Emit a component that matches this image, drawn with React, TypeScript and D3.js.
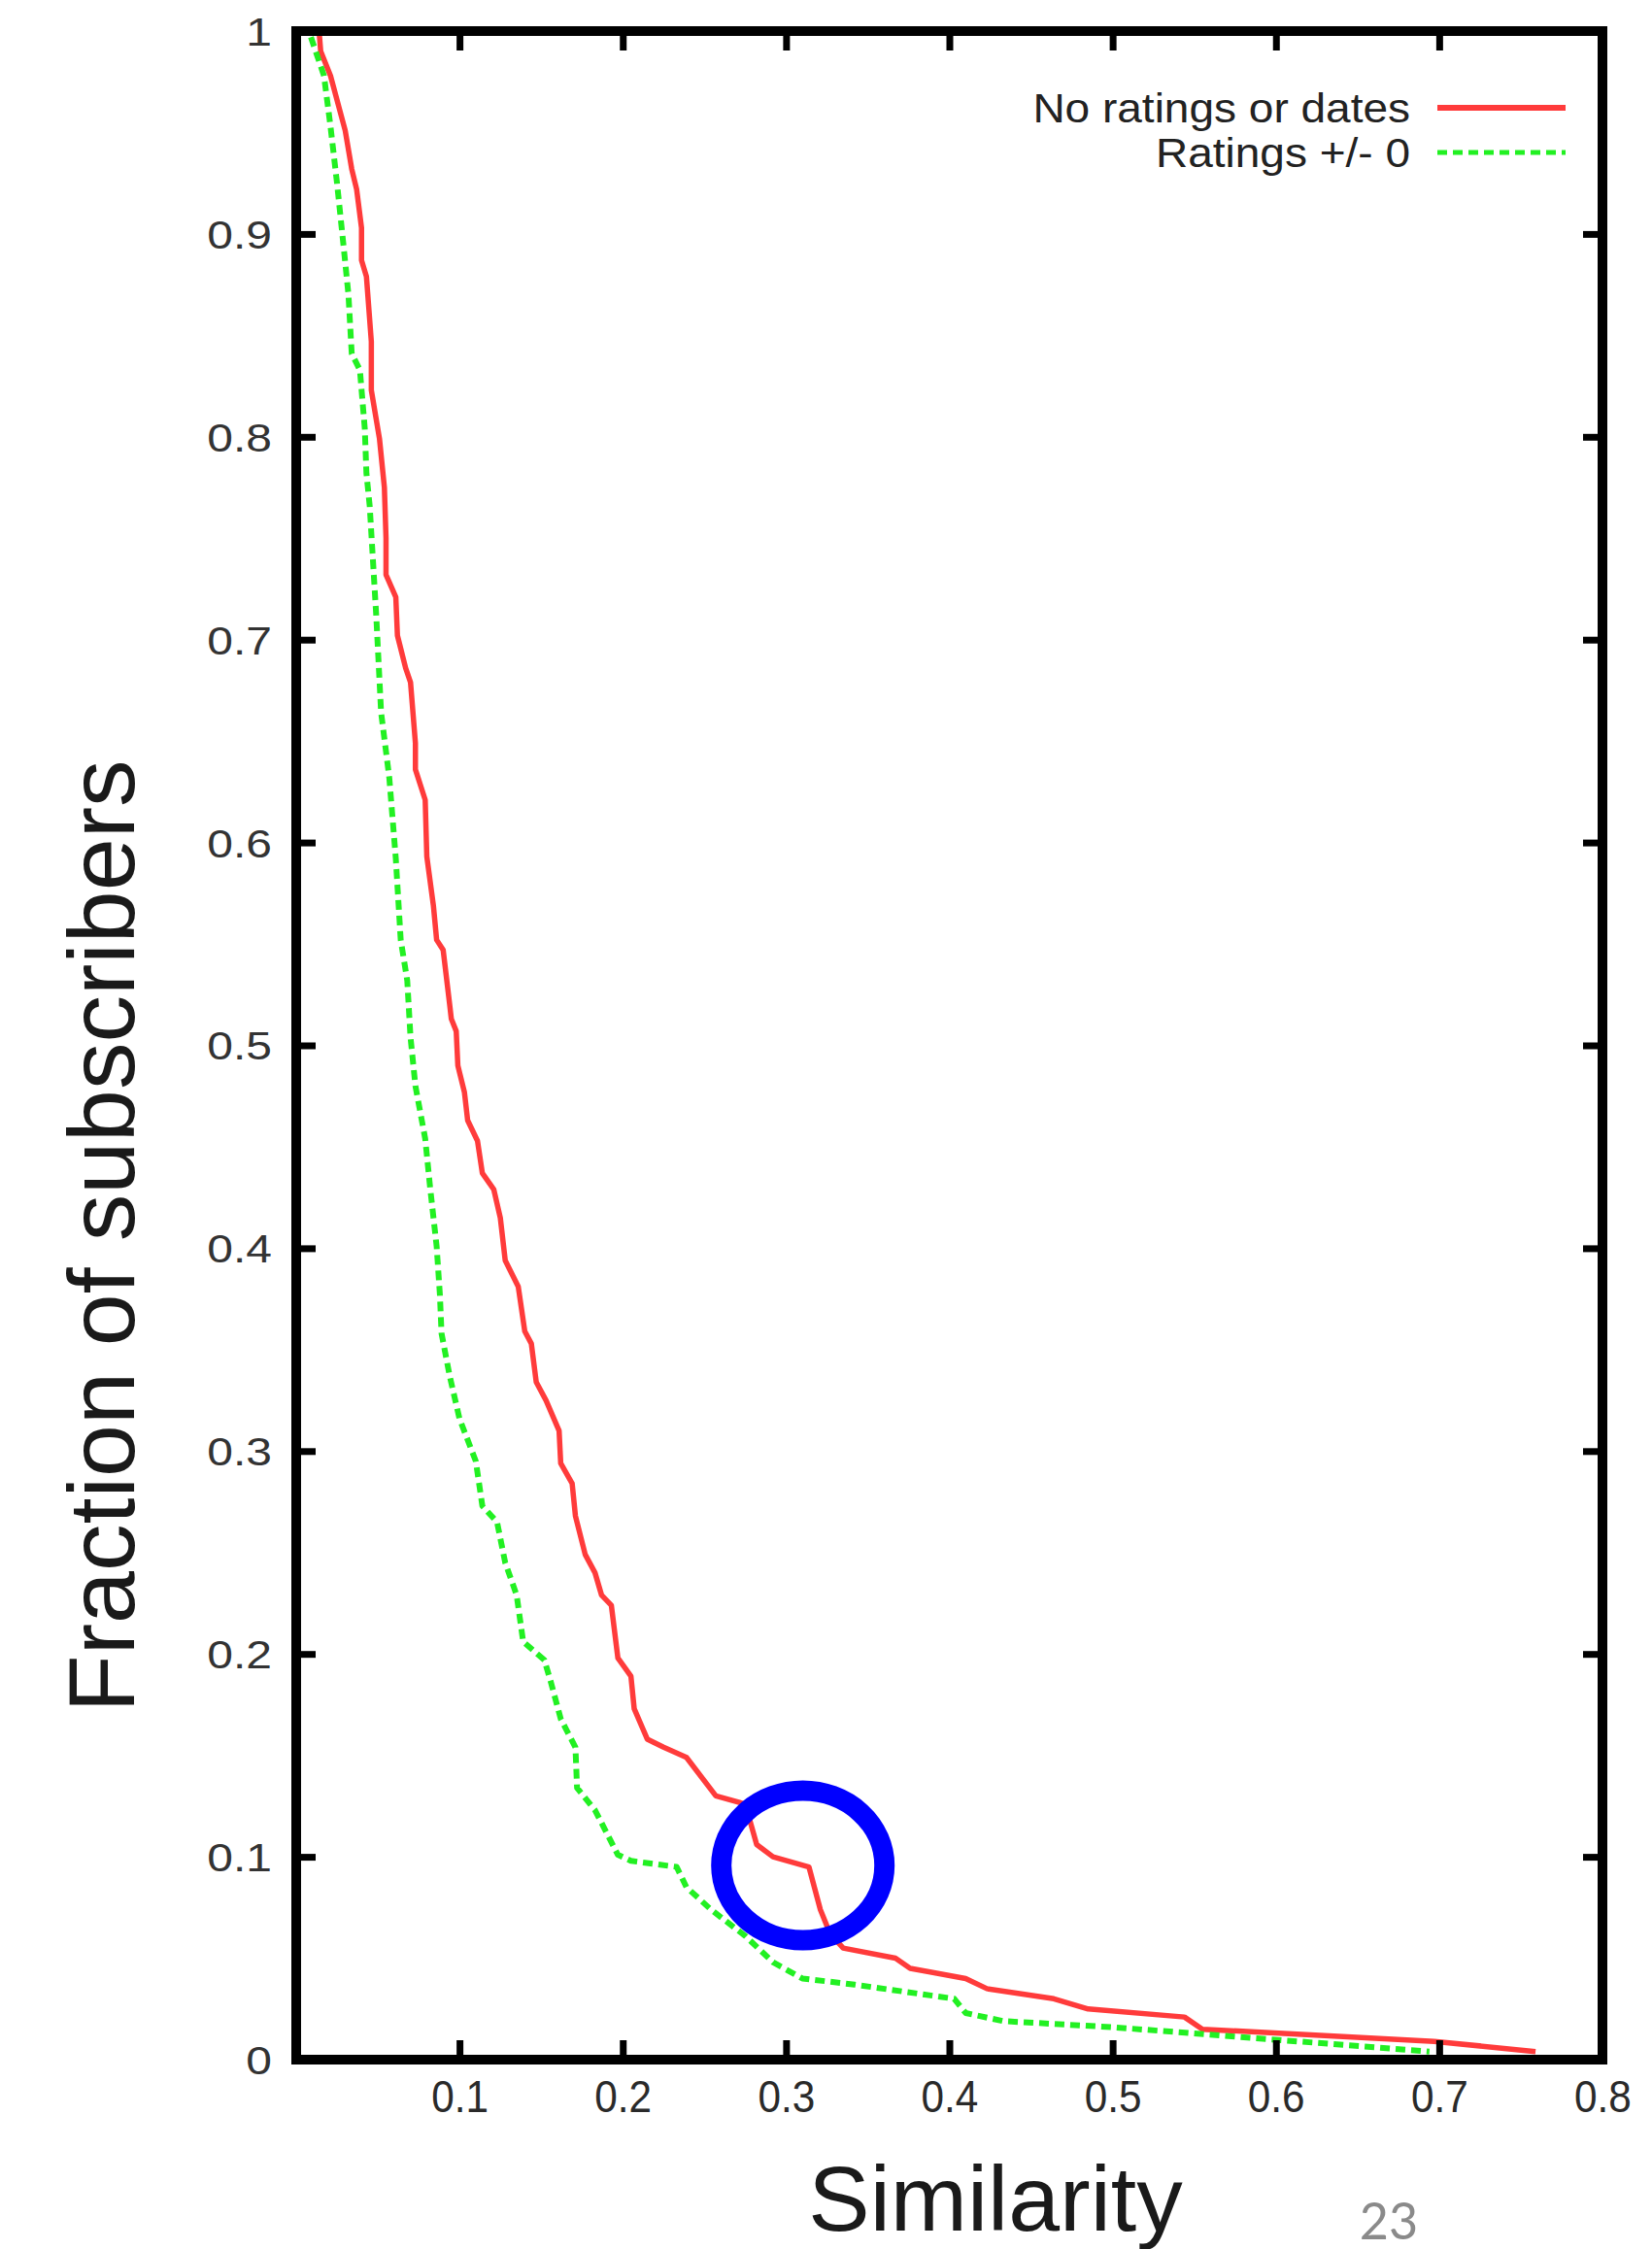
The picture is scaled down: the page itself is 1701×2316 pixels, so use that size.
import React, { useEffect, useRef } from "react";
import * as d3 from "d3";

// "No ratings or dates" (solid red)
const similarityNoRatings = [
  0.014, 0.015, 0.021, 0.030, 0.034, 0.037, 0.040, 0.040, 0.043, 0.046, 0.046, 0.051, 0.054, 0.055,
  0.055, 0.061, 0.062, 0.067, 0.070, 0.073, 0.073, 0.079, 0.080, 0.084, 0.086, 0.090, 0.094, 0.095,
  0.098, 0.099, 0.103, 0.105, 0.111, 0.114, 0.121, 0.125, 0.128, 0.136, 0.140, 0.144, 0.147, 0.153,
  0.161, 0.162, 0.169, 0.171, 0.177, 0.183, 0.187, 0.193, 0.197, 0.205, 0.207, 0.215, 0.225, 0.239,
  0.257, 0.275, 0.282, 0.292, 0.314, 0.321, 0.327, 0.335, 0.367, 0.376, 0.410, 0.423, 0.464, 0.485,
  0.544, 0.555, 0.697, 0.759,
];
const fractionNoRatings = [
  1.000, 0.990, 0.978, 0.951, 0.932, 0.922, 0.903, 0.887, 0.879, 0.847, 0.823, 0.799, 0.775, 0.750,
  0.732, 0.721, 0.702, 0.686, 0.679, 0.649, 0.636, 0.621, 0.593, 0.569, 0.552, 0.547, 0.520, 0.513,
  0.507, 0.490, 0.477, 0.463, 0.453, 0.437, 0.429, 0.415, 0.394, 0.381, 0.359, 0.353, 0.334, 0.325,
  0.310, 0.294, 0.284, 0.268, 0.249, 0.240, 0.229, 0.224, 0.198, 0.189, 0.173, 0.158, 0.154, 0.149,
  0.130, 0.126, 0.106, 0.100, 0.095, 0.074, 0.062, 0.055, 0.050, 0.045, 0.040, 0.035, 0.030, 0.025,
  0.021, 0.015, 0.009, 0.004,
];

// "Ratings +/- 0" (dashed green)
const similarityRatings = [
  0.009, 0.017, 0.021, 0.025, 0.029, 0.032, 0.034, 0.039, 0.042, 0.043, 0.045, 0.049, 0.052, 0.057,
  0.061, 0.064, 0.068, 0.070, 0.073, 0.079, 0.082, 0.086, 0.088, 0.089, 0.094, 0.100, 0.110, 0.114,
  0.123, 0.128, 0.135, 0.139, 0.152, 0.156, 0.162, 0.171, 0.172, 0.183, 0.197, 0.205, 0.233, 0.239,
  0.254, 0.275, 0.292, 0.310, 0.342, 0.403, 0.410, 0.433, 0.500, 0.597, 0.694,
];
const fractionRatings = [
  0.997, 0.978, 0.953, 0.925, 0.894, 0.870, 0.841, 0.833, 0.804, 0.782, 0.766, 0.712, 0.664, 0.632,
  0.592, 0.552, 0.532, 0.504, 0.480, 0.454, 0.430, 0.401, 0.377, 0.358, 0.337, 0.316, 0.295, 0.273,
  0.265, 0.245, 0.229, 0.206, 0.197, 0.186, 0.168, 0.154, 0.134, 0.123, 0.101, 0.098, 0.095, 0.085,
  0.074, 0.061, 0.048, 0.040, 0.037, 0.030, 0.023, 0.019, 0.016, 0.010, 0.004,
];

const xTickValues = [0.1, 0.2, 0.3, 0.4, 0.5, 0.6, 0.7, 0.8];
const yTickValues = [0, 0.1, 0.2, 0.3, 0.4, 0.5, 0.6, 0.7, 0.8, 0.9, 1];
const legendLabels = ["No ratings or dates", "Ratings +/- 0"];
const seriesColors = ["#ff3b3b", "#22f022"];

// highlighted spot (blue ring)
const highlight = [0.3103, 0.0957];

const W = 1701;
const H = 2316;
const FONT = "'Liberation Sans', Arial, Helvetica, sans-serif";

const App = () => {
  const chart = useRef<SVGSVGElement>(null);

  useEffect(() => {
    const svg = d3.select(chart.current);
    svg.selectAll("*").remove();

    const x = d3.scaleLinear().domain([0, 0.8]).range([305, 1650]);
    const y = d3.scaleLinear().domain([0, 1]).range([2121, 32]);

    const line = d3
      .line<[number, number]>()
      .x((d) => x(d[0]))
      .y((d) => y(d[1]));

    const series = [
      { pts: d3.zip(similarityNoRatings, fractionNoRatings) as [number, number][], dash: null, width: 5.5 },
      { pts: d3.zip(similarityRatings, fractionRatings) as [number, number][], dash: "10,6", width: 6 },
    ];

    // curves
    series.forEach((s, i) => {
      svg
        .append("path")
        .datum(s.pts)
        .attr("fill", "none")
        .attr("stroke", seriesColors[i])
        .attr("stroke-width", s.width)
        .attr("stroke-dasharray", s.dash)
        .attr("stroke-linejoin", "round")
        .attr("d", line);
    });

    // axes (ticks point inward on all four sides)
    const bottom = svg
      .append("g")
      .attr("transform", "translate(0," + y(0) + ")")
      .call(d3.axisBottom(x).tickValues(xTickValues).tickSize(-20).tickFormat(d3.format(".1f")));
    bottom.select(".domain").remove();
    bottom.selectAll("line").attr("stroke", "#000").attr("stroke-width", 7);
    bottom
      .selectAll("text")
      .attr("y", 54)
      .attr("dy", null)
      .attr("transform", "scale(0.92,1)")
      .attr("fill", "#2a2a2a")
      .style("font-size", "46px")
      .style("font-family", FONT);

    const left = svg
      .append("g")
      .attr("transform", "translate(" + x(0) + ",0)")
      .call(d3.axisLeft(y).tickValues(yTickValues).tickSize(-20).tickFormat(d3.format("~g")));
    left.select(".domain").remove();
    left.selectAll("line").attr("stroke", "#000").attr("stroke-width", 7);
    left
      .selectAll("text")
      .attr("x", 0)
      .attr("dy", "0.36em")
      .attr("transform", "translate(-25,0) scale(1.2,1)")
      .attr("fill", "#333")
      .style("font-size", "40px")
      .style("font-family", FONT);

    const top = svg
      .append("g")
      .attr("transform", "translate(0," + y(1) + ")")
      .call(d3.axisTop(x).tickValues(xTickValues).tickSize(-20).tickFormat(() => ""));
    top.select(".domain").remove();
    top.selectAll("line").attr("stroke", "#000").attr("stroke-width", 7);

    const right = svg
      .append("g")
      .attr("transform", "translate(" + x(0.8) + ",0)")
      .call(d3.axisRight(y).tickValues(yTickValues).tickSize(-20).tickFormat(() => ""));
    right.select(".domain").remove();
    right.selectAll("line").attr("stroke", "#000").attr("stroke-width", 7);

    // frame
    svg
      .append("rect")
      .attr("x", x(0))
      .attr("y", y(1))
      .attr("width", x(0.8) - x(0))
      .attr("height", y(0) - y(1))
      .attr("fill", "none")
      .attr("stroke", "#000")
      .attr("stroke-width", 10);

    // legend
    const legend = svg.append("g").attr("transform", "translate(1452,111)");
    legendLabels.forEach((label, i) => {
      const row = legend.append("g").attr("transform", "translate(0," + i * 46 + ")");
      row
        .append("text")
        .attr("text-anchor", "end")
        .attr("dy", "0.34em")
        .attr("transform", "scale(1.07,1)")
        .attr("fill", "#222")
        .style("font-size", "43px")
        .style("font-family", FONT)
        .text(label);
      row
        .append("line")
        .attr("x1", 28)
        .attr("x2", 160)
        .attr("stroke", seriesColors[i])
        .attr("stroke-width", i === 0 ? 6 : 5)
        .attr("stroke-dasharray", series[i].dash);
    });

    // axis titles
    svg
      .append("text")
      .attr("transform", "translate(138," + 1273 + ") rotate(-90)")
      .attr("text-anchor", "middle")
      .attr("fill", "#1a1a1a")
      .style("font-size", "97px")
      .style("font-family", FONT)
      .text("Fraction of subscribers");

    svg
      .append("text")
      .attr("x", 1025)
      .attr("y", 2297)
      .attr("text-anchor", "middle")
      .attr("fill", "#1a1a1a")
      .style("font-size", "95px")
      .style("font-family", FONT)
      .text("Similarity");

    // blue ring around the drop
    svg
      .append("ellipse")
      .attr("cx", x(highlight[0]))
      .attr("cy", y(highlight[1]))
      .attr("rx", 84)
      .attr("ry", 77)
      .attr("fill", "none")
      .attr("stroke", "#0000ff")
      .attr("stroke-width", 21);

    // slide page number and clipped footer link
    svg
      .append("text")
      .attr("x", 1430)
      .attr("y", 2306)
      .attr("text-anchor", "middle")
      .attr("fill", "#8a8a8a")
      .style("font-size", "52px")
      .style("font-family", "Lato, 'Open Sans', sans-serif")
      .text("23");

    svg
      .append("text")
      .attr("x", 4)
      .attr("y", 2368)
      .attr("fill", "#1f4e8c")
      .style("font-size", "64px")
      .style("font-style", "italic")
      .style("font-family", "'Open Sans', sans-serif")
      .text("http://www.cs.utexas.edu/~shmat");
  }, []);

  return (
    <svg
      ref={chart}
      width={W}
      height={H}
      style={{ position: "absolute", left: 0, top: 0, background: "#fff" }}
    />
  );
};

export default App;
